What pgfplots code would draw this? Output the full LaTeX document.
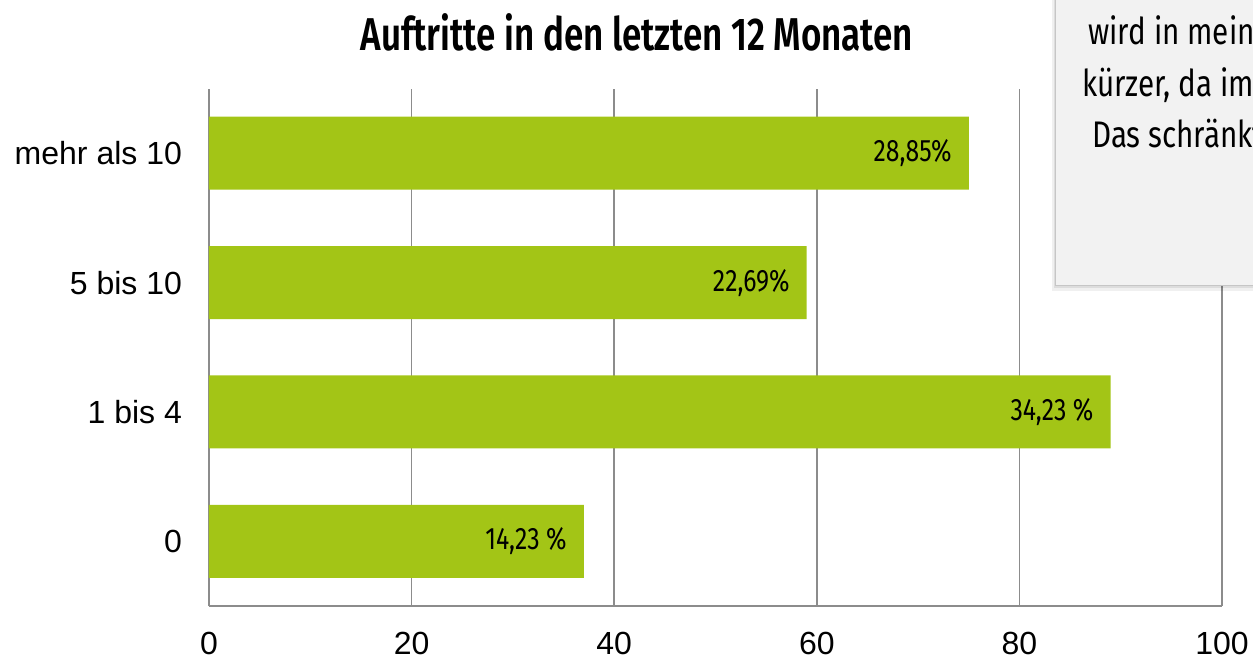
\documentclass[border=0pt]{standalone}
\usepackage{fontspec}
\setmainfont{Liberation Sans}
\newfontfamily\dintitle[FakeStretch=0.76]{Fira Sans SemiBold}
\newfontfamily\dinwide[FakeStretch=0.8]{Fira Sans}
\newfontfamily\dinlabel[FakeStretch=0.8]{Fira Sans}
\usepackage{pgfplots}
\pgfplotsset{compat=1.18}
\definecolor{bargreen}{HTML}{A3C516}
\definecolor{gridgray}{HTML}{8C8C8C}
\definecolor{boxgray}{HTML}{F2F2F2}
\begin{document}
\begin{tikzpicture}
\useasboundingbox (0,0) rectangle (626.5pt,329.5pt);
\begin{axis}[
  at={(104.5pt,26.5pt)}, anchor=south west,
  scale only axis, width=506.5pt, height=258.75pt,
  xbar, bar width=36.5pt,
  xmin=0, xmax=100, ymin=-0.5, ymax=3.5,
  xtick={0,20,...,100}, ytick={0,1,2,3},
  yticklabels={0,1 bis 4,5 bis 10,mehr als 10},
  axis lines=left, axis line style={-, draw=gridgray, line width=0.75pt},
  xmajorgrids, major grid style={draw=gridgray, line width=0.75pt},
  major tick length=0pt,
  /pgf/number format/assume math mode=true,
  tick label style={font=\fontsize{16}{18}\selectfont},
  xticklabel style={yshift=-9.5pt},
  yticklabel style={xshift=-10pt},
  nodes near coords, point meta=explicit symbolic,
  nodes near coords style={anchor=east, xshift=-5pt, text=black,
    font=\dinlabel\fontsize{15.5}{16}\selectfont},
]
\addplot[draw=none, fill=bargreen] coordinates {
  (37,0) [14,23 \%]
  (89,1) [34,23 \%]
  (59,2) [22,69\%]
  (75,3) [28,85\%]
};
\end{axis}
\node[font=\dintitle\fontsize{23}{26}\selectfont] at (318.5pt,313.5pt)
  {Auftritte in den letzten 12 Monaten};
% overlapping callout box, cut by the right edge
\fill[black, opacity=0.06] (526pt,184pt) rectangle (640pt,340pt);
\fill[black, opacity=0.08] (526.75pt,185.5pt) rectangle (640pt,340pt);
\fill[boxgray] (527.5pt,187pt) rectangle (640pt,340pt);
\draw[gray!45, line width=0.4pt] (527.5pt,340pt) -- (527.5pt,187pt) -- (640pt,187pt);
\begin{scope}[every node/.style={anchor=base west, inner sep=0pt,
    font=\dinwide\fontsize{18.5}{20}\selectfont}]
\node at (544pt,307pt) {wird in mein};
\node at (541pt,281pt) {kürzer, da im};
\node at (546pt,255.5pt) {Das schränkt};
\end{scope}
\end{tikzpicture}
\end{document}
